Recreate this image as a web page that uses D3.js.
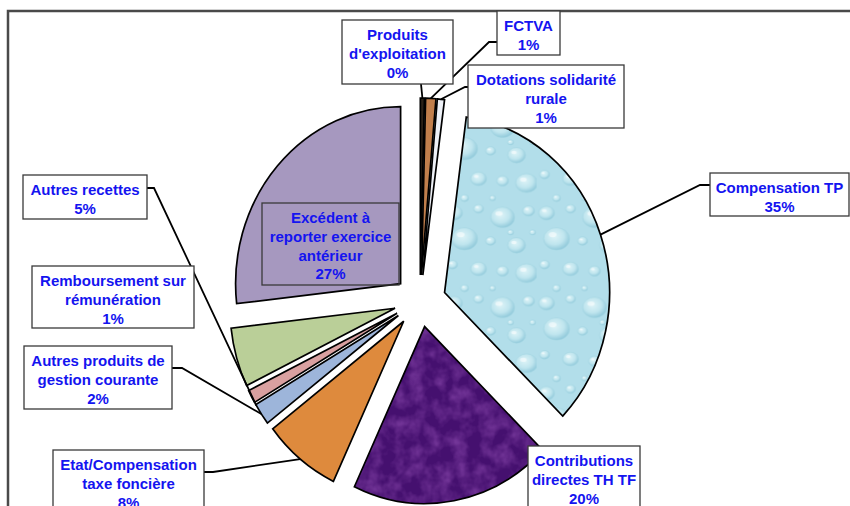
<!DOCTYPE html>
<html>
<head>
<meta charset="utf-8">
<script src="https://cdn.jsdelivr.net/npm/d3@7"></script>
<style>
  body { margin: 0; background: #fff; }
  .lbl text { font-family: "Liberation Sans", Arial, sans-serif; font-weight: bold; font-size: 15px; fill: #1414f0; }
</style>
</head>
<body>
<div id="chart"></div>
<script>
// slices, clockwise from 12 o'clock
const categories = ["Produits d'exploitation", "FCTVA", "Dotations solidarité rurale", "Compensation TP",
    "Contributions directes TH TF", "Etat/Compensation taxe foncière", "Autres produits de gestion courante",
    "Remboursement sur rémunération", "Autres recettes", "Excédent à reporter exercice antérieur"];
const shares = [0.4, 1.0, 0.7, 35.2, 19.7, 7.6, 2.0, 1.2, 5.4, 26.8];
const labelLines = [["Produits", "d'exploitation"], ["FCTVA"], ["Dotations solidarité", "rurale"],
    ["Compensation TP"], ["Contributions", "directes TH TF"], ["Etat/Compensation", "taxe foncière"],
    ["Autres produits de", "gestion courante"], ["Remboursement sur", "rémunération"], ["Autres recettes"],
    ["Excédent à", "reporter exercice", "antérieur"]];

const fills = ["#2a2118", "#c17f4c", "#eef1f7", "url(#water)", "#45106f", "#de8a3d", "#9db5da", "#d9a0a0", "#bacf98", "#a698bf"];

// label boxes and leader lines (layout only)
const boxes = [
    { x: 342, y: 20, w: 111, h: 64, from: [421, 84], elbow: null, slice: 0, t: 0.5 },
    { x: 497, y: 11, w: 63, h: 44, from: [497, 42], elbow: [489, 42], slice: 1, t: 0.5 },
    { x: 468, y: 65, w: 156, h: 63, from: [468, 87], elbow: [465, 87], slice: 2, t: 0.5 },
    { x: 710, y: 173, w: 139, h: 43, from: [710, 185], elbow: [700, 185], slice: 3, t: 0.5 },
    { x: 528, y: 446, w: 112, h: 80, from: null },
    { x: 53, y: 450, w: 151, h: 70, from: [204, 472], elbow: [213, 472], slice: 5, t: 0.5 },
    { x: 24, y: 346, w: 148, h: 63, from: [172, 368], elbow: [182, 368], slice: 6, t: 0.5 },
    { x: 32, y: 266, w: 162, h: 62, from: null },
    { x: 23, y: 175, w: 124, h: 44, from: [147, 188], elbow: [154, 188], slice: 6, t: 0.95 },
    { x: 262, y: 203, w: 137, h: 82, from: null, clear: true }
];

const width = 850, height = 506;
const cx = 420, cy = 301, rx = 165, ry = 177, explode = 26;

const svg = d3.select('#chart').append('svg')
    .attr('width', width)
    .attr('height', height);

const defs = svg.append('defs');
const grad = defs.append('radialGradient').attr('id', 'drop')
    .attr('cx', '42%').attr('cy', '38%').attr('r', '62%');
grad.append('stop').attr('offset', '0%').attr('stop-color', '#ddf3f7');
grad.append('stop').attr('offset', '60%').attr('stop-color', '#bfe5ee');
grad.append('stop').attr('offset', '100%').attr('stop-color', '#92cadb');

// water-drop texture
const pat = defs.append('pattern').attr('id', 'water')
    .attr('patternUnits', 'userSpaceOnUse')
    .attr('width', 92).attr('height', 84);
pat.append('rect').attr('width', 92).attr('height', 84).attr('fill', '#b2deea');
const drops = [[10, 10, 8], [34, 6, 5], [58, 14, 12], [84, 8, 6], [20, 34, 13], [46, 36, 5], [72, 40, 9],
    [8, 58, 5], [34, 62, 8], [58, 64, 6], [82, 66, 11], [20, 80, 4], [48, 80, 3], [66, 28, 3], [88, 28, 3]];
drops.forEach(d => {
    pat.append('ellipse').attr('cx', d[0]).attr('cy', d[1]).attr('rx', d[2]).attr('ry', d[2] * 0.8)
        .attr('fill', 'url(#drop)').attr('stroke', '#9fd2e0').attr('stroke-width', 0.5);
    pat.append('ellipse').attr('cx', d[0] - d[2] * 0.3).attr('cy', d[1] - d[2] * 0.3)
        .attr('rx', d[2] * 0.3).attr('ry', d[2] * 0.18).attr('fill', '#ffffff').attr('opacity', 0.55);
});

// faint mottled overlay for the purple slice
const mottle = defs.append('filter').attr('id', 'mottle')
    .attr('x', 0).attr('y', 0).attr('width', 1).attr('height', 1);
mottle.append('feTurbulence').attr('type', 'fractalNoise').attr('baseFrequency', 0.07)
    .attr('numOctaves', 3).attr('seed', 4).attr('result', 'n');
mottle.append('feColorMatrix').attr('in', 'n').attr('type', 'matrix')
    .attr('values', '0 0 0 0 0.40  0 0 0 0 0.12  0 0 0 0 0.58  0.9 0 0 0 -0.32').attr('result', 'c');
mottle.append('feComposite').attr('in', 'c').attr('in2', 'SourceAlpha').attr('operator', 'in');

// chart frame
svg.append('rect')
    .attr('x', 8).attr('y', 11)
    .attr('width', 900).attr('height', 600)
    .attr('fill', 'none')
    .attr('stroke', '#4a4a4a')
    .attr('stroke-width', 2.5);

const pie = d3.pie().sort(null).value(d => d);
const arcs = pie(shares);
const arc = d3.arc().innerRadius(0).outerRadius(rx);

arcs.forEach(a => {
    const mid = (a.startAngle + a.endAngle) / 2;
    a.ox = cx + explode * Math.sin(mid);
    a.oy = cy - explode * Math.cos(mid);
});

function arcPoint(i, t) {
    const a = arcs[i];
    const ang = a.startAngle + (a.endAngle - a.startAngle) * t;
    return [a.ox + rx * Math.sin(ang), a.oy - ry * Math.cos(ang)];
}

const slices = svg.selectAll('.slice')
    .data(arcs)
    .enter().append('g')
    .attr('class', 'slice')
    .attr('transform', d => `translate(${d.ox},${d.oy}) scale(1,${ry / rx})`);

slices.append('path')
    .attr('d', arc)
    .attr('fill', (d, i) => fills[i]);

slices.filter((d, i) => i === 4).append('path')
    .attr('d', arc)
    .attr('fill', '#000')
    .attr('filter', 'url(#mottle)');

slices.append('path')
    .attr('d', arc)
    .attr('fill', 'none')
    .attr('stroke', '#000')
    .attr('stroke-width', 1.7)
    .attr('vector-effect', 'non-scaling-stroke');

// leader lines
boxes.forEach(b => {
    if (!b.from) return;
    const pts = [b.from];
    if (b.elbow) pts.push(b.elbow);
    pts.push(arcPoint(b.slice, b.t));
    svg.append('path')
        .attr('d', d3.line()(pts))
        .attr('fill', 'none')
        .attr('stroke', '#000')
        .attr('stroke-width', 1.8);
});

// labels
const lbl = svg.selectAll('.lbl')
    .data(boxes)
    .enter().append('g')
    .attr('class', 'lbl');

lbl.append('rect')
    .attr('x', d => d.x).attr('y', d => d.y)
    .attr('width', d => d.w).attr('height', d => d.h)
    .attr('fill', d => d.clear ? 'none' : '#fff')
    .attr('stroke', '#3a3a3a')
    .attr('stroke-width', 1.3);

lbl.each(function(d, i) {
    const lines = labelLines[i].concat([Math.round(shares[i]) + '%']);
    const g = d3.select(this);
    lines.forEach((txt, k) => {
        g.append('text')
            .attr('x', d.x + d.w / 2)
            .attr('y', d.y + 14.5 + k * 18.8)
            .attr('dy', '0.36em')
            .attr('text-anchor', 'middle')
            .text(txt);
    });
});
</script>
</body>
</html>
